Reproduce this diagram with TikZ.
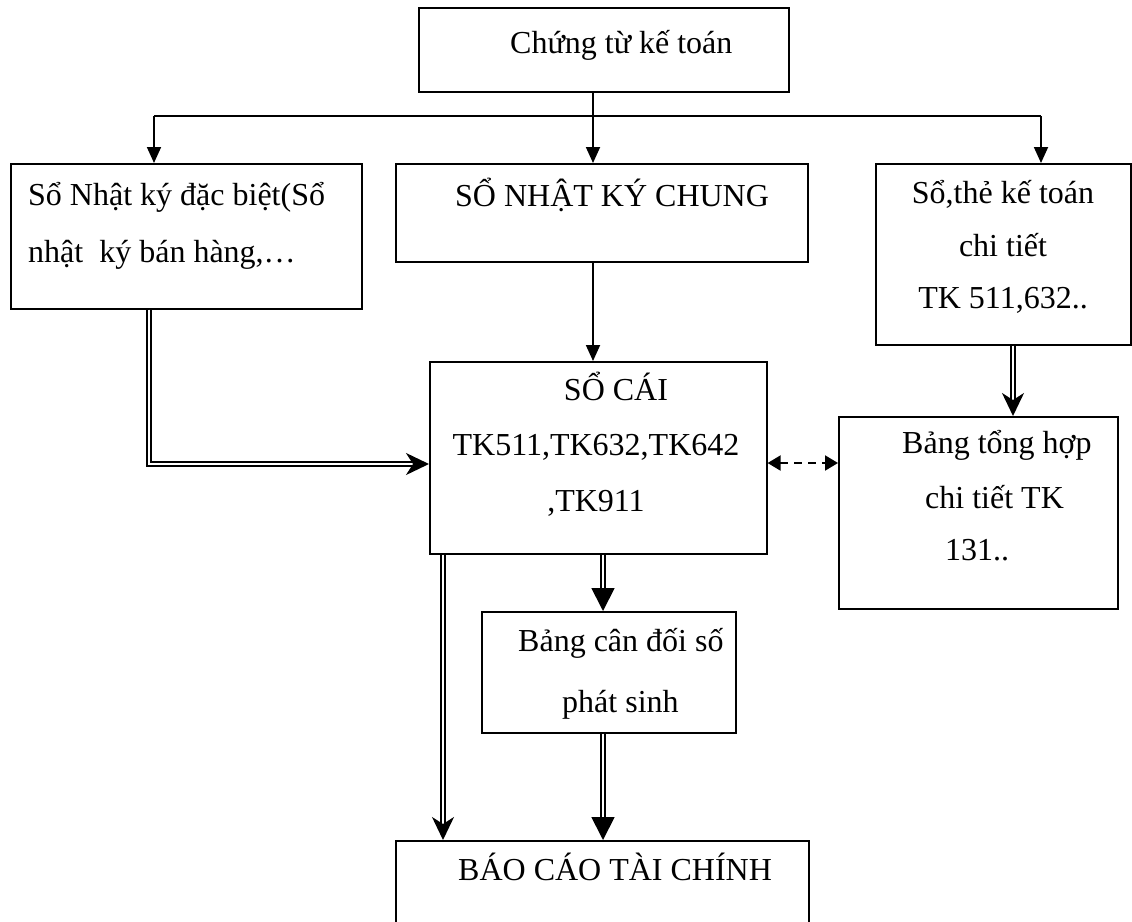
\documentclass[tikz,border=0pt]{standalone}
\usepackage{fontspec}
\setmainfont{Liberation Serif}
\usetikzlibrary{arrows.meta}
\begin{document}
\begin{tikzpicture}[x=1pt,y=-1pt,
  box/.style={draw,line width=1.6pt,inner sep=0pt,anchor=north west},
  txt/.style={anchor=base west,inner sep=0pt,font=\fontsize{32}{38}\selectfont},
  txtc/.style={txt,anchor=base},
  link/.style={line width=1.8pt,-{Triangle[length=16pt,width=14pt]}},
  dbl/.style={double,double distance=2.6pt,line width=1.8pt},
  dblfill/.style={dbl,-{Triangle[length=23pt,width=23pt]}},
  dblbarb/.style={dbl,-{Stealth[length=23pt,width=22pt,inset=7pt]}},
  twoway/.style={line width=2pt,dash pattern=on 8pt off 6pt,
    {Triangle[length=13pt,width=15pt]}-{Triangle[length=13pt,width=15pt]}}
]
\useasboundingbox (0,0) rectangle (1132,921);

% boxes
\node[box,minimum width=370pt,minimum height=84pt]  (top)     at (418,7)   {};
\node[box,minimum width=351pt,minimum height=145pt] (left)    at (10,163)  {};
\node[box,minimum width=412pt,minimum height=98pt]  (mid)     at (395,163) {};
\node[box,minimum width=255pt,minimum height=181pt] (right)   at (875,163) {};
\node[box,minimum width=337pt,minimum height=192pt] (cai)     at (429,361) {};
\node[box,minimum width=279pt,minimum height=192pt] (tonghop) at (838,416) {};
\node[box,minimum width=254pt,minimum height=121pt] (candoi)  at (481,611) {};
\node[box,minimum width=413pt,minimum height=100pt] (baocao)  at (395,840) {};

% texts
\node[txt]  (t1) at (510,53)   {Chứng từ kế toán};
\node[txt]  (l1) at (28,205)   {Sổ Nhật ký đặc biệt(Sổ};
\node[txt]  (l2) at (28,262)   {nhật\ \ ký bán hàng,…};
\node[txt]  (m1) at (455,206)  {SỔ NHẬT KÝ CHUNG};
\node[txtc] (r1) at (1003,203) {Sổ,thẻ kế toán};
\node[txtc] (r2) at (1003,256) {chi tiết};
\node[txtc] (r3) at (1003,308) {TK 511,632..};
\node[txtc] (c1) at (616,400)  {SỔ CÁI};
\node[txtc] (c2) at (596,455)  {TK511,TK632,TK642};
\node[txtc] (c3) at (596,511)  {,TK911};
\node[txt]  (g1) at (902,453)  {Bảng tổng hợp};
\node[txt]  (g2) at (925,508)  {chi tiết TK};
\node[txt]  (g3) at (945,560)  {131..};
\node[txt]  (d1) at (518,651)  {Bảng cân đối số};
\node[txt]  (d2) at (562,712)  {phát sinh};
\node[txt]  (b1) at (458,880)  {BÁO CÁO TÀI CHÍNH};

% branching from the source documents
\coordinate (trunk) at (593,116);
\coordinate (bl) at (154,116);
\coordinate (br) at (1041,116);
\draw[line width=1.8pt] (top.south -| trunk) -- (trunk);
\draw[line width=1.8pt] (bl) -- (br);
\draw[link] (bl) -- (bl |- left.north);
\draw[link] (trunk) -- (trunk |- mid.north);
\draw[link] (br) -- (br |- right.north);
\draw[link] (mid.south -| trunk) -- (trunk |- cai.north);

% double-line flows
\coordinate (lk) at (149,464);
\draw[dblbarb] (lk |- left.south) -- (lk) -- (cai.west |- lk);
\coordinate (rk) at (1013,380);
\draw[dblbarb] (rk |- right.south) -- (rk |- tonghop.north);
\coordinate (ck) at (603,580);
\draw[dblfill] (cai.south -| ck) -- (ck |- candoi.north);
\draw[dblfill] (candoi.south -| ck) -- (ck |- baocao.north);
\coordinate (ak) at (443,700);
\draw[dblbarb] (cai.south -| ak) -- (ak |- baocao.north);

% cross-check between ledger and detail summary
\coordinate (dk) at (800,463);
\draw[twoway] (cai.east |- dk) -- (tonghop.west |- dk);
\end{tikzpicture}
\end{document}
